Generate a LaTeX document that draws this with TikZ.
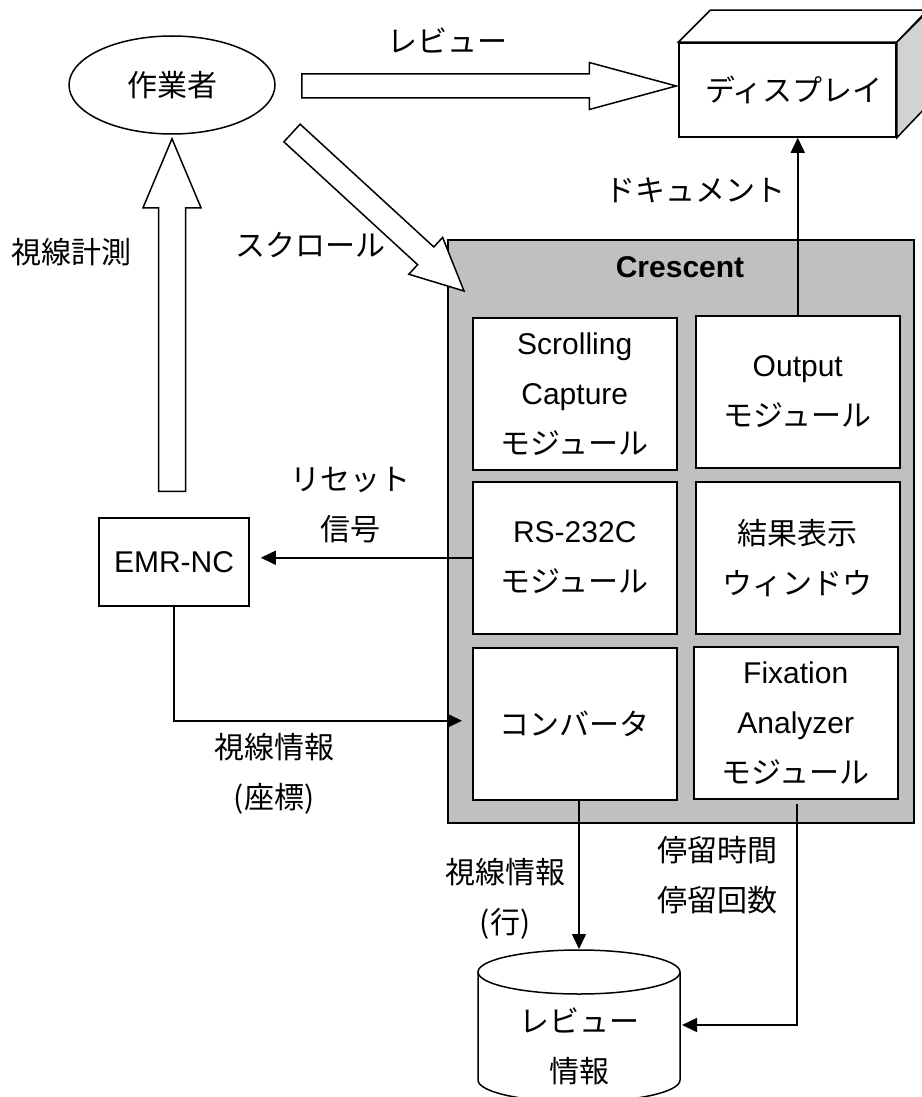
\documentclass[tikz,border=0pt]{standalone}
\usepackage{fontspec}
\setmainfont{Liberation Sans}
\newfontfamily\jp{Noto Sans CJK JP}
\usetikzlibrary{calc,shapes.geometric,arrows.meta}
\definecolor{cgray}{HTML}{C0C0C0}
\definecolor{fgray}{HTML}{D2D2D2}
% block arrow: start, tip, half shaft width, half head width, head length
\newcommand\blkarrow[5]{%
  \coordinate (bah) at ($(#2)!#5!(#1)$);
  \draw[blk] ($(#1)!#3!90:(#2)$) -- ($(bah)!#3!90:(#2)$) -- ($(bah)!#4!90:(#2)$)
    -- (#2) -- ($(bah)!#4!-90:(#2)$) -- ($(bah)!#3!-90:(#2)$) -- ($(#1)!#3!-90:(#2)$) -- cycle;}
\begin{document}
\begin{tikzpicture}[x=1pt,y=-1pt,line width=1.5pt,
  every node/.style={inner sep=0pt,font=\fontsize{30}{50}\selectfont},
  module/.style={draw,fill=white,minimum width=204pt,minimum height=152pt,align=center,anchor=north west},
  lbl/.style={align=center,font=\jp\fontsize{30}{50}\selectfont},
  conn/.style={-{Triangle[length=15pt,width=14pt]}},
  blk/.style={draw,fill=white,line join=miter}]
\useasboundingbox (0,0) rectangle (921,1097);

% worker
\node[draw,ellipse,minimum width=206pt,minimum height=98pt,font=\jp\fontsize{30}{36}\selectfont] (worker) at (172,85) {作業者};

% display (3D box)
\node[draw,fill=white,minimum width=217pt,minimum height=94pt] (display) at (787.5,90) {};
\draw[fill=white] (display.north west) -- ++(32,-32) -- ++(217,0) -- (display.north east) -- cycle;
\draw[fill=fgray] (display.north east) -- ++(32,-32) -- ++(0,94) -- (display.south east) -- cycle;
\node[lbl] (disptext) at (794,90) {ディスプレイ};

% Crescent container
\node[draw,fill=cgray,minimum width=466pt,minimum height=583pt,anchor=north west] (crescent) at (447,239) {};
\node[font=\bfseries\fontsize{30}{36}\selectfont] (ctitle) at (680,267) {Crescent};

\node[module] (scroll) at (472,317) {Scrolling\\Capture\\{\jp モジュール}};
\node[module] (output) at (695,315) {Output\\{\jp モジュール}};
\node[module] (rs) at (472,481) {RS-232C\\{\jp モジュール}};
\node[module,font=\jp\fontsize{30}{50}\selectfont] (result) at (695,481) {結果表示\\ウィンドウ};
\node[module,font=\jp\fontsize{30}{50}\selectfont] (conv) at (472,647) {コンバータ};
\node[module] (fix) at (693,646) {Fixation\\Analyzer\\{\jp モジュール}};

% EMR-NC
\node[draw,fill=white,minimum width=150pt,minimum height=88pt] (emr) at (174,562) {EMR-NC};

% database cylinder
\draw[fill=white] (478,972) -- (478,1080) arc[start angle=180,end angle=360,x radius=101pt,y radius=22pt] -- (680,972);
\draw[fill=white] (579,972) ellipse [x radius=101pt,y radius=22pt];
\node[lbl] (dbtext) at (579,1046) {レビュー\\情報};
\coordinate (dbN) at (579,949);
\coordinate (dbE) at (682,1025);

% block arrows
\coordinate (rvA) at ($(worker.east)+(26,1)$);
\coordinate (rvB) at ($(display.west)+(-2,-4)$);
\blkarrow{rvA}{rvB}{12pt}{23.5pt}{87pt}
\coordinate (scA) at ($(worker.center)+(120,48)$);
\coordinate (scB) at ($(crescent.north west)+(17,52)$);
\blkarrow{scA}{scB}{12pt}{25pt}{52pt}
\coordinate (upA) at ($(emr.north)+(-2,-26)$);
\coordinate (upB) at ($(worker.south)+(0,4)$);
\blkarrow{upA}{upB}{13.5pt}{29pt}{69pt}

% connectors
\draw[conn] (output.north) -- (output.north |- display.south);
\draw[conn] (rs.west) -- ($(rs.west -| emr.east)+(11,0)$);
\draw[conn] (emr.south) |- ($(conv.west)+(-10,-3)$);
\draw[conn] (conv.south -| dbN) -- (dbN);
\draw[conn] ($(fix.south)+(1,4)$) |- (dbE);

% labels
\node[lbl] (lrev) at (447,40) {レビュー};
\node[lbl] (ldoc) at (695,190) {ドキュメント};
\node[lbl] (lgaze) at (72,252) {視線計測};
\node[lbl] (lscroll) at (310,245) {スクロール};
\node[lbl] (lreset) at (350,505) {リセット\\信号};
\node[lbl] (lcoord) at (274,774) {視線情報\\(座標)};
\node[lbl] (lrow) at (505,899) {視線情報\\(行)};
\node[lbl] (lstay) at (717,875) {停留時間\\停留回数};
\end{tikzpicture}
\end{document}
